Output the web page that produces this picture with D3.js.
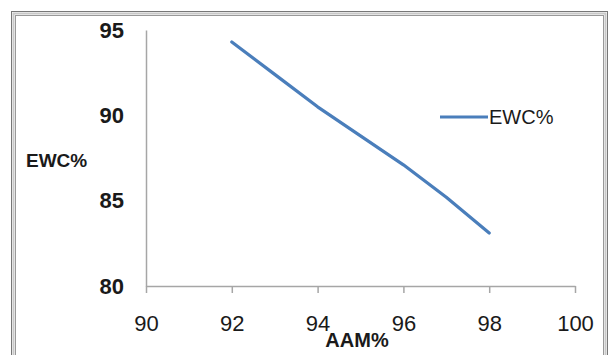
<!DOCTYPE html>
<html>
<head>
<meta charset="utf-8">
<script src="https://cdn.jsdelivr.net/npm/d3@7"></script>
<style>
  body { margin: 0; background: #fff; }
  text { font-family: "Liberation Sans", Arial, sans-serif; fill: #1a1a1a; }
</style>
</head>
<body>
<div class="chart"></div>
<script>
// data
const aam = [92, 93, 94, 95, 96, 97, 98];
const ewc = [94.3, 92.4, 90.5, 88.8, 87.1, 85.2, 83.1];
const xTicks = [90, 92, 94, 96, 98, 100];
const yTicks = [80, 85, 90, 95];
const seriesName = "EWC%";

const width = 612;
const height = 355;
const svg = d3.select('.chart')
  .append('svg')
  .attr('width', width)
  .attr('height', height)

// chart frame (double border)
svg.append("rect").attr("x", 11.5).attr("y", 11.5).attr("width", 596).attr("height", 360)
  .attr("fill", "none").attr("stroke", "#777").attr("stroke-width", 1)
svg.append("rect").attr("x", 13.5).attr("y", 13.5).attr("width", 592).attr("height", 360)
  .attr("fill", "none").attr("stroke", "#c8c8c8").attr("stroke-width", 2)
svg.append("rect").attr("x", 15.5).attr("y", 15.5).attr("width", 588).attr("height", 360)
  .attr("fill", "#fff").attr("stroke", "#999").attr("stroke-width", 1)

const x = d3.scaleLinear().domain([90, 100]).range([146, 575]);
const y = d3.scaleLinear().domain([80, 95]).range([286, 30]);

const serif = '"Liberation Serif", "Times New Roman", serif';

const gx = svg.append("g")
  .attr("transform", `translate(0,${y(80)})`)
  .call(d3.axisBottom(x).tickValues(xTicks).tickSize(7).tickPadding(22).tickSizeOuter(0))
gx.select(".domain").attr("stroke", "#a6a6a6").attr("stroke-width", 1.5)
gx.selectAll(".tick line").attr("stroke", "#a6a6a6").attr("stroke-width", 1.5)
gx.selectAll(".tick text")
  .attr("font-size", 22)
  .attr("font-family", serif)
  .attr("fill", "#1a1a1a")

const gy = svg.append("g")
  .attr("transform", `translate(${x(90)},0)`)
  .call(d3.axisLeft(y).tickValues(yTicks).tickSize(0).tickPadding(22).tickSizeOuter(0))
gy.select(".domain").attr("stroke", "#a6a6a6").attr("stroke-width", 1.5)
gy.selectAll(".tick text")
  .attr("font-size", 22)
  .attr("font-family", serif)
  .attr("font-weight", "bold")
  .attr("fill", "#1a1a1a")

const line = d3.line()
  .x((d, i) => x(aam[i]))
  .y(d => y(d))

svg.append("path")
  .datum(ewc)
  .attr("d", line)
  .attr("fill", "none")
  .attr("stroke", "#4a7ebb")
  .attr("stroke-width", 3.2)
  .attr("stroke-linecap", "round")
  .attr("stroke-linejoin", "round")

// axis titles
svg.append("text")
  .attr("x", 26)
  .attr("y", 167)
  .attr("font-size", 19)
  .attr("font-weight", "bold")
  .text("EWC%")

svg.append("text")
  .attr("x", 357)
  .attr("y", 347)
  .attr("text-anchor", "middle")
  .attr("font-size", 20)
  .attr("font-weight", "bold")
  .text("AAM%")

// legend
svg.append("line")
  .attr("x1", 440).attr("x2", 488)
  .attr("y1", 117).attr("y2", 117)
  .attr("stroke", "#4a7ebb")
  .attr("stroke-width", 3.2)
svg.append("text")
  .attr("x", 489)
  .attr("y", 124)
  .attr("font-size", 20)
  .text(seriesName)
</script>
</body>
</html>
